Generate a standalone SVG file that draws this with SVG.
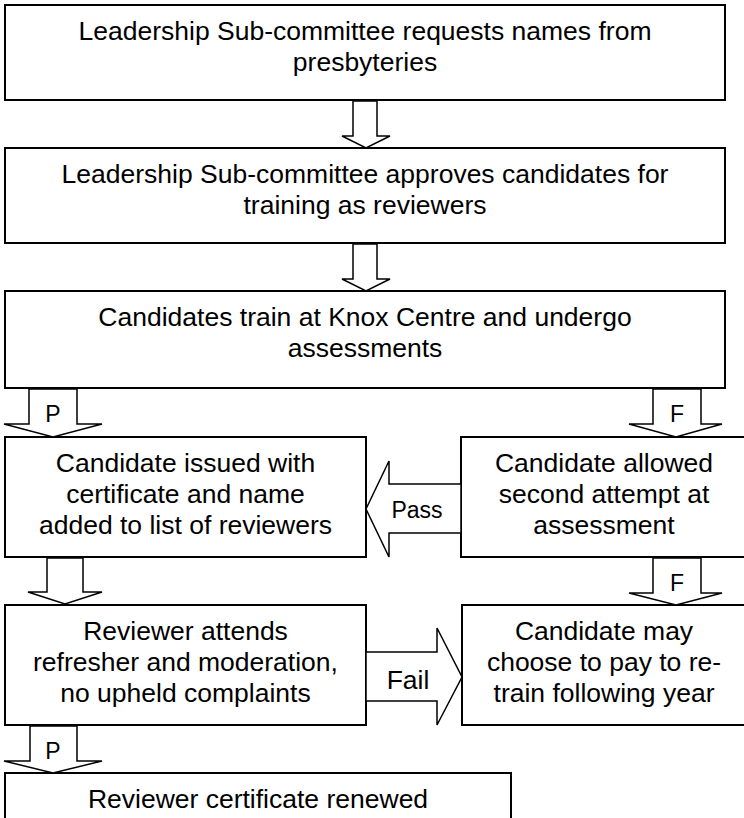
<svg xmlns="http://www.w3.org/2000/svg" width="744" height="818" viewBox="0 0 744 818">
<style>
  .box { fill: #fff; stroke: #000; stroke-width: 2; }
  .arr { fill: #fff; stroke: #000; stroke-width: 1.5; stroke-linejoin: miter; }
  text { font-family: "Liberation Sans", Arial, sans-serif; font-size: 26.5px; fill: #000; text-anchor: middle; }
  .lbl { font-size: 23px; }
</style>
<rect width="744" height="818" fill="#fff"/>
<g id="n1">
  <rect class="box" x="5" y="5" width="720" height="95"/>
  <text x="365" y="40">Leadership Sub-committee requests names from</text>
  <text x="365" y="71">presbyteries</text>
</g>
<g id="n2">
  <rect class="box" x="5" y="148" width="720" height="95"/>
  <text x="365" y="183">Leadership Sub-committee approves candidates for</text>
  <text x="365" y="214">training as reviewers</text>
</g>
<g id="n3">
  <rect class="box" x="5" y="291" width="720" height="97"/>
  <text x="365" y="326">Candidates train at Knox Centre and undergo</text>
  <text x="365" y="357">assessments</text>
</g>
<g id="n4">
  <rect class="box" x="5" y="437" width="361" height="120"/>
  <text x="185.5" y="472">Candidate issued with</text>
  <text x="185.5" y="503">certificate and name</text>
  <text x="185.5" y="534">added to list of reviewers</text>
</g>
<g id="n5">
  <rect class="box" x="461" y="437" width="290" height="120"/>
  <text x="604" y="472">Candidate allowed</text>
  <text x="604" y="503">second attempt at</text>
  <text x="604" y="534">assessment</text>
</g>
<g id="n6">
  <rect class="box" x="5" y="605" width="361" height="120"/>
  <text x="185.5" y="640">Reviewer attends</text>
  <text x="185.5" y="671">refresher and moderation,</text>
  <text x="185.5" y="702">no upheld complaints</text>
</g>
<g id="n7">
  <rect class="box" x="462" y="605" width="290" height="120"/>
  <text x="604" y="640">Candidate may</text>
  <text x="604" y="671">choose to pay to re-</text>
  <text x="604" y="702">train following year</text>
</g>
<g id="n8">
  <rect class="box" x="5" y="773" width="506" height="60"/>
  <text x="258" y="808">Reviewer certificate renewed</text>
</g>
<g id="connectors">
  <polygon class="arr" points="353,101 353,136 342,136 366,148 390,136 377,136 377,101"/>
  <polygon class="arr" points="353,244 353,279 342,279 366,291 390,279 377,279 377,244"/>
  <polygon class="arr" points="29,389 29,424 4,424 53,437 102,424 77,424 77,389"/>
  <text class="lbl" x="53" y="422">P</text>
  <polygon class="arr" points="653,389 653,424 629,424 676,437 722,424 701,424 701,389"/>
  <text class="lbl" x="677" y="422">F</text>
  <polygon class="arr" points="461,484 389,484 389,461 366,509 389,557 389,533 461,533"/>
  <text class="lbl" x="417" y="518">Pass</text>
  <polygon class="arr" points="47,558 47,592 28,592 65,604 102,592 83,592 83,558"/>
  <polygon class="arr" points="653,558 653,593 629,593 676,605 722,593 701,593 701,558"/>
  <text class="lbl" x="677" y="591">F</text>
  <polygon class="arr" points="366,652 437,652 437,628 462,677 437,725 437,701 366,701"/>
  <text x="408" y="689">Fail</text>
  <polygon class="arr" points="30,726 30,761 4,761 53,773 102,761 77,761 77,726"/>
  <text class="lbl" x="53" y="759">P</text>
</g>
</svg>
